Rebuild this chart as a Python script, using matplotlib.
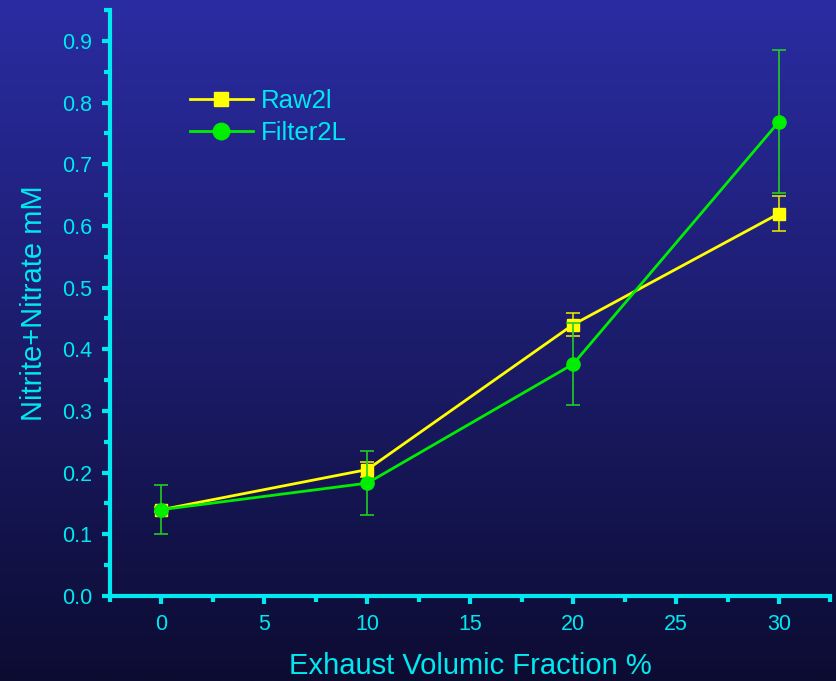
import numpy as np
import matplotlib
matplotlib.use("Agg")
import matplotlib.pyplot as plt
from matplotlib.colors import LinearSegmentedColormap

plt.rcParams['font.family'] = ['Liberation Sans', 'DejaVu Sans']

# data
fraction = [0, 10, 20, 30]
raw2l = [0.14, 0.205, 0.44, 0.62]
raw2l_err = [0.004, 0.012, 0.018, 0.029]
filter2l = [0.14, 0.183, 0.376, 0.769]
filter2l_err = [0.04, 0.052, 0.067, 0.116]

cyan = "#00e8f0"
yellow = "#ffff00"
green = "#00ee00"

fig = plt.figure(figsize=(8.37, 6.81), dpi=100)

# gradient background
bg = fig.add_axes([0, 0, 1, 1], zorder=-10)
grad = np.linspace(0, 1, 256).reshape(-1, 1)
bg_cmap = LinearSegmentedColormap.from_list("bg", ["#2a2ca2", "#1c1c6c", "#0c0c32"])
bg.imshow(grad, aspect="auto", cmap=bg_cmap, extent=[0, 1, 0, 1])
bg.axis("off")

ax = fig.add_axes([110 / 837, 85 / 681, (830.5 - 110) / 837, (596 - 10) / 681])
ax.patch.set_alpha(0)

c1 = ax.errorbar(fraction, raw2l, yerr=raw2l_err, color=yellow, lw=2, marker="s",
                 ms=8, mfc=yellow, mec=yellow, ecolor="#e0e000", elinewidth=1.2,
                 capsize=5, capthick=1.2, zorder=3)
c2 = ax.errorbar(fraction, filter2l, yerr=filter2l_err, color=green, lw=2, marker="o",
                 ms=9.5, mfc=green, mec=green, ecolor="#22cc22", elinewidth=1.2,
                 capsize=5, capthick=1.2, zorder=4)

ax.set_xlim(-2.5, 32.5)
ax.set_ylim(0, 0.95)
ax.set_xticks([0, 5, 10, 15, 20, 25, 30])
ax.set_xticks(np.arange(-2.5, 33, 5), minor=True)
ax.set_yticks(np.arange(0, 0.91, 0.1))
ax.set_yticks(np.arange(0.05, 0.96, 0.1), minor=True)
ax.set_yticklabels([f"{v:.1f}" for v in np.arange(0, 0.91, 0.1)])

for s in ["top", "right"]:
    ax.spines[s].set_visible(False)
for s in ["left", "bottom"]:
    ax.spines[s].set_color(cyan)
    ax.spines[s].set_linewidth(3)

ax.tick_params(which="major", length=6, width=3, color=cyan, labelcolor=cyan,
               labelsize=15.5, pad=7)
ax.tick_params(which="minor", length=4, width=3, color=cyan)

ax.set_xlabel("Exhaust Volumic Fraction %", color=cyan, fontsize=21, labelpad=12)
ax.set_ylabel("Nitrite+Nitrate mM", color=cyan, fontsize=21, labelpad=10)

leg = fig.legend([c1.lines[0], c2.lines[0]], ["Raw2l", "Filter2L"],
                 loc="upper left", bbox_to_anchor=(190 / 837, 1 - 89 / 681),
                 bbox_transform=fig.transFigure, frameon=False,
                 borderaxespad=0, borderpad=0, markerscale=1.25,
                 handlelength=2.45, labelspacing=0.3, handletextpad=0.3,
                 fontsize=18.5)
for t in leg.get_texts():
    t.set_color(cyan)

fig.savefig("out.png", dpi=100)
